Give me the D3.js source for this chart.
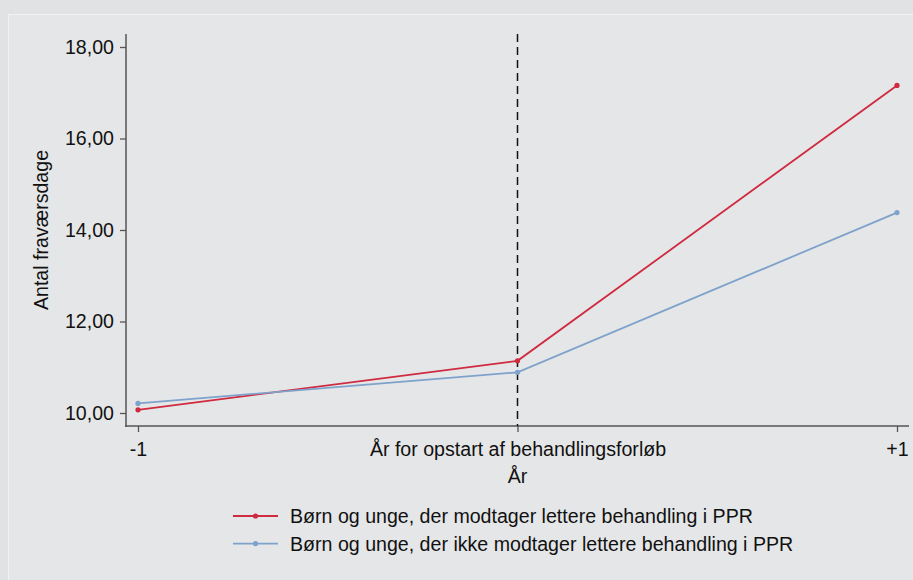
<!DOCTYPE html>
<html><head><meta charset="utf-8">
<script src="https://cdn.jsdelivr.net/npm/d3@7"></script>
<style>
html,body{margin:0;padding:0;background:#e1e2e3;}
svg{display:block;}
text{font-family:"Liberation Sans",Arial,sans-serif;fill:#111;}
</style></head><body>
<svg id="c" width="913" height="580"></svg>
<script>
const xValues = [-1, 0, 1];
const xTickLabels = ["-1", "År for opstart af behandlingsforløb", "+1"];
const yTicks = [10, 12, 14, 16, 18];
const seriesNames = ["Børn og unge, der modtager lettere behandling i PPR", "Børn og unge, der ikke modtager lettere behandling i PPR"];
const seriesRed = [10.07, 11.14, 17.16];
const seriesBlue = [10.21, 10.89, 14.38];
const colors = ["#cf2a3f", "#7ea2cb"];
const FS = "19.6px";

const svg = d3.select("#c");
svg.append("rect").attr("x",8.5).attr("y",14.5).attr("width",910).attr("height",570)
  .attr("fill","#e5e6e7").attr("stroke","#f2f2f2").attr("stroke-width",1);

const x = d3.scaleLinear().domain([-1,1]).range([138,897]);
const y = d3.scaleLinear().domain([10,18]).range([413,47]);
const fmt = d => d3.format(".2f")(d).replace(".", ",");

// y axis
const yAxis = d3.axisLeft(y).tickValues(yTicks).tickFormat(fmt).tickSize(6).tickPadding(6);
const gy = svg.append("g").attr("transform","translate(126,0)").call(yAxis);
gy.select(".domain").remove();
gy.append("line").attr("x1",0).attr("x2",0).attr("y1",34).attr("y2",427).attr("stroke","#555").attr("stroke-width",1.5);
gy.selectAll(".tick line").attr("stroke","#555").attr("stroke-width",1.3);
gy.selectAll(".tick text").style("font-size",FS).attr("fill","#111").style("font-family","'Liberation Sans',Arial,sans-serif");

// x axis
const xAxis = d3.axisBottom(x).tickValues(xValues).tickFormat((d,i)=>xTickLabels[i]).tickSize(6).tickPadding(10);
const gx = svg.append("g").attr("transform","translate(0,426)").call(xAxis);
gx.select(".domain").remove();
gx.append("line").attr("x1",125).attr("x2",909).attr("y1",0).attr("y2",0).attr("stroke","#555").attr("stroke-width",1.5);
gx.selectAll(".tick line").attr("stroke","#555").attr("stroke-width",1.3);
gx.selectAll(".tick text").style("font-size",FS).attr("fill","#111").style("font-family","'Liberation Sans',Arial,sans-serif");

// vertical dashed reference line
svg.append("line").attr("x1",x(0)).attr("x2",x(0)).attr("y1",34).attr("y2",426)
  .attr("stroke","#111").attr("stroke-width",1.5).attr("stroke-dasharray","8,5");

// axis titles
svg.append("text").attr("x",x(0)).attr("y",483).attr("text-anchor","middle").style("font-size",FS).text("År");
svg.append("text").attr("transform","translate(48,230) rotate(-90)").attr("text-anchor","middle").style("font-size",FS).text("Antal fraværsdage");

// lines
const line = d3.line().x((d,i)=>x(xValues[i])).y(d=>y(d));
[seriesRed, seriesBlue].forEach((s,k)=>{
  svg.append("path").datum(s).attr("d",line).attr("fill","none").attr("stroke",colors[k]).attr("stroke-width",1.8);
  svg.selectAll(null).data(s).enter().append("circle")
    .attr("cx",(d,i)=>x(xValues[i])).attr("cy",d=>y(d)).attr("r",2.6).attr("fill",colors[k]);
});

// legend
seriesNames.forEach((n,k)=>{
  const ly = 516 + k*27.6;
  svg.append("line").attr("x1",233).attr("x2",278).attr("y1",ly).attr("y2",ly).attr("stroke",colors[k]).attr("stroke-width",1.8);
  svg.append("circle").attr("cx",255.5).attr("cy",ly).attr("r",2.6).attr("fill",colors[k]);
  svg.append("text").attr("x",290).attr("y",ly+7).style("font-size",FS).text(n);
});
</script>
</body></html>
